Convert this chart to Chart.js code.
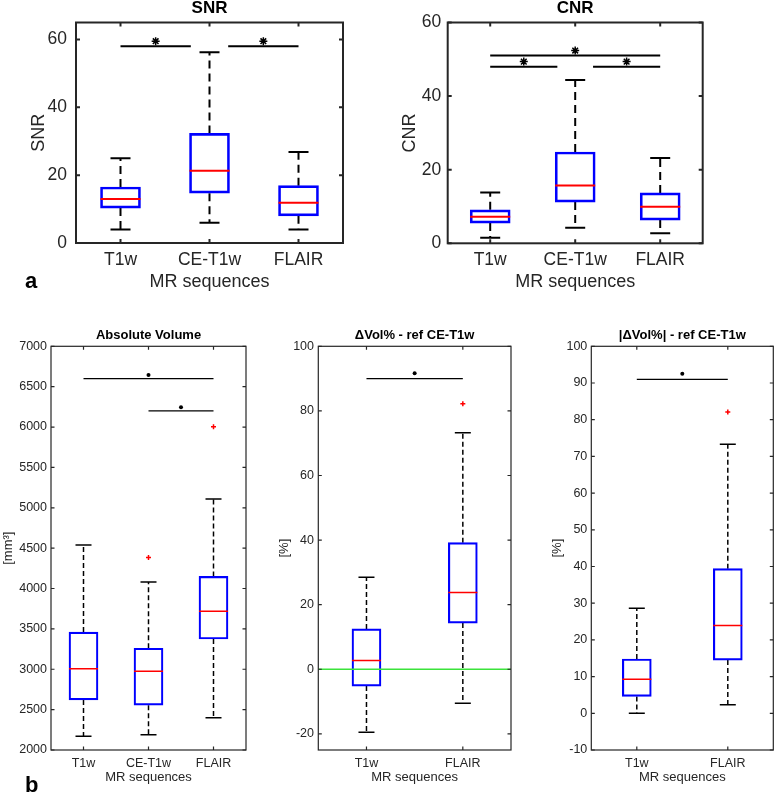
<!DOCTYPE html>
<html>
<head>
<meta charset="utf-8">
<script src="https://cdn.jsdelivr.net/npm/chart.js@4.4.1/dist/chart.umd.min.js"></script>
<style>
html,body{margin:0;padding:0;background:#fff;}
#fig{position:relative;width:778px;height:795px;overflow:hidden;font-family:"Liberation Sans",Arial,Helvetica,sans-serif;}
#fig canvas{position:absolute;}
.plabel{position:absolute;font-weight:bold;font-size:22px;line-height:1;color:#000;}
</style>
</head>
<body>
<div id="fig">
  <canvas id="c1"></canvas>
  <canvas id="c2"></canvas>
  <canvas id="c3"></canvas>
  <canvas id="c4"></canvas>
  <canvas id="c5"></canvas>
  <div class="plabel" style="left:25px;top:270px">a</div>
  <div class="plabel" style="left:25px;top:774px">b</div>
</div>
<script>
// ---------------- DATA ----------------
const topCategories = ['T1w', 'CE-T1w', 'FLAIR'];
const diffCategories = ['T1w', 'FLAIR'];

// SNR
const snrMin = [4, 6, 4];
const snrQ1 = [10.3, 14.7, 8.0];
const snrMedian = [13.0, 21.3, 11.9];
const snrQ3 = [16.5, 32.3, 16.9];
const snrMax = [25, 56.2, 26.8];
const snrOutliers = [[], [], []];
const snrSigPairs = [[0, 1], [1, 2]];
const snrSigLevel = [58, 58];
const snrTicks = [0, 20, 40, 60];

// CNR
const cnrMin = [1.5, 4.2, 2.7];
const cnrQ1 = [5.5, 11.2, 6.3];
const cnrMedian = [7.2, 15.7, 9.9];
const cnrQ3 = [9.1, 24.8, 13.7];
const cnrMax = [13.8, 44.4, 23.2];
const cnrOutliers = [[], [], []];
const cnrSigPairs = [[0, 2], [0, 1], [1, 2]];
const cnrSigLevel = [51, 48, 48];
const cnrTicks = [0, 20, 40, 60];

// Absolute Volume [mm3]
const volMin = [2170, 2190, 2400];
const volQ1 = [2620, 2555, 3375];
const volMedian = [3005, 2975, 3720];
const volQ3 = [3460, 3260, 4150];
const volMax = [4540, 4080, 5110];
const volOutliers = [[], [4385], [6005]];
const volSigPairs = [[0, 2], [1, 2]];
const volSigLevel = [6600, 6200];
const volTicks = [2000, 2500, 3000, 3500, 4000, 4500, 5000, 5500, 6000, 6500, 7000];

// dVol% ref CE-T1w
const dvolMin = [-19.5, -10.5];
const dvolQ1 = [-5.2, 14.3];
const dvolMedian = [2.7, 23.8];
const dvolQ3 = [12.5, 39.2];
const dvolMax = [28.5, 73.2];
const dvolOutliers = [[], [82.2]];
const dvolSigPairs = [[0, 1]];
const dvolSigLevel = [90];
const dvolRefLevel = [0];
const dvolTicks = [-20, 0, 20, 40, 60, 80, 100];

// |dVol%| ref CE-T1w
const advolMin = [0, 2.3];
const advolQ1 = [4.6, 14.5];
const advolMedian = [9.3, 23.9];
const advolQ3 = [14.8, 39.4];
const advolMax = [28.6, 73.3];
const advolOutliers = [[], [82.1]];
const advolSigPairs = [[0, 1]];
const advolSigLevel = [91];
const advolTicks = [-10, 0, 10, 20, 30, 40, 50, 60, 70, 80, 90, 100];

// ---------------- STYLE ----------------
const FONT = '"Liberation Sans", Arial, Helvetica, sans-serif';
const AX = '#262626';
const BLUE = '#0000ff';
const RED = '#ff0000';
const GREEN = '#3be33b';

const topStyle = {tickFont: 17.5, labelFont: 18, titleFont: 17, titleTop: 0, box: 40, cap: 10, lw: 2, dash: [8, 5],
  frameLw: 2, tickLen: 4, star: 'star', starR: 4, starBw: 1.5, outR: 3, xTickPad: 6.5, xTitlePad: 6.7, sigLw: 2};
const botStyle = {tickFont: 12.5, labelFont: 13, titleFont: 13, titleTop: 28.5, box: 29, cap: 8, lw: 1.5, dash: [5, 3],
  frameLw: 1.2, tickLen: 3.5, star: 'circle', starR: 2, starBw: 0, outR: 2.5, xTickPad: 6.5, xTitlePad: 9.4, sigLw: 1.3};

const matlabFrame = {
  id: 'matlabFrame',
  afterDatasetsDraw(chart, args, opts) {
    const {ctx, chartArea: a, scales: {x, y}} = chart;
    ctx.save();
    ctx.strokeStyle = opts.color;
    ctx.lineWidth = opts.lw;
    ctx.beginPath();
    const L = opts.len;
    y.ticks.forEach(t => {
      const p = y.getPixelForValue(t.value);
      ctx.moveTo(a.left, p); ctx.lineTo(a.left + L, p);
      ctx.moveTo(a.right, p); ctx.lineTo(a.right - L, p);
    });
    x.ticks.forEach(t => {
      const p = x.getPixelForValue(t.value);
      ctx.moveTo(p, a.bottom); ctx.lineTo(p, a.bottom - L);
      ctx.moveTo(p, a.top); ctx.lineTo(p, a.top + L);
    });
    ctx.stroke();
    ctx.strokeRect(a.left, a.top, a.right - a.left, a.bottom - a.top);
    ctx.restore();
  }
};

function makePanel(cfg) {
  const {id, pos, area, cats, mins, q1, med, q3, maxs, outs, sigPairs, sigLevel, ticks,
    yMin, yMax, title, yTitle, st, refLine, yTickPad, yTitlePad, starFrac} = cfg;
  const cv = document.getElementById(id);
  cv.width = pos.w; cv.height = pos.h;
  cv.style.left = pos.x + 'px'; cv.style.top = pos.y + 'px';
  cv.style.width = pos.w + 'px'; cv.style.height = pos.h + 'px';

  const ds = [];
  const n = cats.length;
  (refLine || []).forEach(v => ds.push({type: 'line', data: [{x: 0.5, y: v}, {x: n + 0.5, y: v}],
    borderColor: GREEN, borderWidth: st.lw, pointRadius: 0, fill: false}));
  // medians
  ds.push({type: 'scatter', data: med.map((v, i) => ({x: i + 1, y: v})), pointStyle: 'line',
    pointRadius: st.box / 2, pointHoverRadius: st.box / 2, borderColor: RED, borderWidth: st.lw});
  // outliers
  const outPts = [];
  outs.forEach((arr, i) => arr.forEach(v => outPts.push({x: i + 1, y: v})));
  ds.push({type: 'scatter', data: outPts, pointStyle: 'cross', pointRadius: st.outR, borderColor: RED, borderWidth: 1.5});
  // significance bars + markers
  const starPts = [];
  const range = yMax - yMin;
  sigPairs.forEach((pr, k) => {
    let a = pr[0] + 1, b = pr[1] + 1;
    sigPairs.forEach((o, j) => {
      if (j === k || sigLevel[j] !== sigLevel[k]) return;
      if (o[1] === pr[0]) a += 0.21;
      if (o[0] === pr[1]) b -= 0.21;
    });
    ds.push({type: 'line', data: [{x: a, y: sigLevel[k]}, {x: b, y: sigLevel[k]}],
      borderColor: '#000', borderWidth: st.sigLw, pointRadius: 0, fill: false});
    starPts.push({x: (a + b) / 2, y: sigLevel[k] + starFrac * range});
  });
  ds.push({type: 'scatter', data: starPts, pointStyle: st.star, pointRadius: st.starR,
    borderColor: '#000', backgroundColor: '#000', borderWidth: st.starBw});
  // boxes
  ds.push({type: 'bar', data: q1.map((v, i) => ({x: i + 1, y: [v, q3[i]]})),
    backgroundColor: 'rgba(0,0,0,0)', borderColor: BLUE, borderWidth: st.lw,
    borderSkipped: false, barThickness: st.box});
  // caps
  const capPts = [];
  mins.forEach((v, i) => { capPts.push({x: i + 1, y: v}); capPts.push({x: i + 1, y: maxs[i]}); });
  ds.push({type: 'scatter', data: capPts, pointStyle: 'line', pointRadius: st.cap, borderColor: '#000', borderWidth: st.lw});
  // whiskers
  cats.forEach((c, i) => {
    ds.push({type: 'line', data: [{x: i + 1, y: q3[i]}, {x: i + 1, y: maxs[i]}], borderColor: '#000',
      borderWidth: st.lw, borderDash: st.dash, pointRadius: 0, fill: false});
    ds.push({type: 'line', data: [{x: i + 1, y: q1[i]}, {x: i + 1, y: mins[i]}], borderColor: '#000',
      borderWidth: st.lw, borderDash: st.dash, pointRadius: 0, fill: false});
  });

  return new Chart(cv, {
    type: 'bar',
    data: {datasets: ds},
    options: {
      responsive: false, animation: false, events: [],
      layout: {autoPadding: false, padding: {left: 0, top: 0, right: pos.w - area.r, bottom: 0}},
      plugins: {
        legend: {display: false}, tooltip: {enabled: false},
        title: {display: true, text: title, fullSize: false, color: '#000',
          font: {family: FONT, size: st.titleFont, weight: 'bold', lineHeight: 1},
          padding: {top: st.titleTop, bottom: area.t - st.titleTop - st.titleFont}},
        matlabFrame: {color: AX, lw: st.frameLw, len: st.tickLen}
      },
      scales: {
        x: {type: 'linear', offset: false, min: 0.5, max: n + 0.5,
          grid: {display: false, drawTicks: false}, border: {display: false},
          afterBuildTicks: s => { s.ticks = cats.map((c, i) => ({value: i + 1})); },
          afterFit: s => { s.height = pos.h - area.b; s.paddingLeft = 0; s.paddingRight = 0; s.paddingTop = 0; s.paddingBottom = 0; },
          ticks: {autoSkip: false, maxRotation: 0, minRotation: 0, padding: st.xTickPad, color: AX,
            font: {family: FONT, size: st.tickFont, lineHeight: 1.2},
            callback: v => cats[Math.round(v) - 1]},
          title: {display: true, text: 'MR sequences', color: AX,
            font: {family: FONT, size: st.labelFont, lineHeight: 1.2},
            padding: {top: 0, bottom: st.xTitlePad}}},
        y: {type: 'linear', min: yMin, max: yMax, beginAtZero: false,
          grid: {display: false, drawTicks: false}, border: {display: false},
          afterBuildTicks: s => { s.ticks = ticks.map(v => ({value: v})); },
          afterFit: s => { s.width = area.l; s.paddingLeft = 0; s.paddingRight = 0; s.paddingTop = 0; s.paddingBottom = 0; },
          ticks: {autoSkip: false, padding: yTickPad, color: AX,
            font: {family: FONT, size: st.tickFont, lineHeight: 1.2},
            callback: v => String(v)},
          title: {display: true, text: yTitle, color: AX,
            font: {family: FONT, size: st.labelFont, lineHeight: 1.2},
            padding: {top: yTitlePad, bottom: 0}}}
      }
    },
    plugins: [matlabFrame]
  });
}

makePanel({id: 'c1', pos: {x: 0, y: 0, w: 390, h: 300}, area: {l: 76, r: 343, t: 22.5, b: 243},
  cats: topCategories, mins: snrMin, q1: snrQ1, med: snrMedian, q3: snrQ3, maxs: snrMax, outs: snrOutliers,
  sigPairs: snrSigPairs, sigLevel: snrSigLevel, ticks: snrTicks, yMin: 0, yMax: 65,
  title: 'SNR', yTitle: 'SNR', st: topStyle, yTickPad: 9, yTitlePad: 28.2, starFrac: 0.023});

makePanel({id: 'c2', pos: {x: 390, y: 0, w: 388, h: 300}, area: {l: 57.7, r: 312.7, t: 22.5, b: 243.3},
  cats: topCategories, mins: cnrMin, q1: cnrQ1, med: cnrMedian, q3: cnrQ3, maxs: cnrMax, outs: cnrOutliers,
  sigPairs: cnrSigPairs, sigLevel: cnrSigLevel, ticks: cnrTicks, yMin: 0, yMax: 60,
  title: 'CNR', yTitle: 'CNR', st: topStyle, yTickPad: 6.5, yTitlePad: 9.5, starFrac: 0.023});

makePanel({id: 'c3', pos: {x: 0, y: 300, w: 258, h: 495}, area: {l: 51, r: 246, t: 46.3, b: 450},
  cats: topCategories, mins: volMin, q1: volQ1, med: volMedian, q3: volQ3, maxs: volMax, outs: volOutliers,
  sigPairs: volSigPairs, sigLevel: volSigLevel, ticks: volTicks, yMin: 2000, yMax: 7000,
  title: 'Absolute Volume', yTitle: '[mm³]', st: botStyle, yTickPad: 4, yTitlePad: 0.9, starFrac: 0.009});

makePanel({id: 'c4', pos: {x: 258, y: 300, w: 258, h: 495}, area: {l: 60.3, r: 253, t: 46.3, b: 450},
  cats: diffCategories, mins: dvolMin, q1: dvolQ1, med: dvolMedian, q3: dvolQ3, maxs: dvolMax, outs: dvolOutliers,
  sigPairs: dvolSigPairs, sigLevel: dvolSigLevel, ticks: dvolTicks, yMin: -25, yMax: 100, refLine: dvolRefLevel,
  title: 'ΔVol% - ref CE-T1w', yTitle: '[%]', st: botStyle, yTickPad: 4.3, yTitlePad: 18.2, starFrac: 0.013});

makePanel({id: 'c5', pos: {x: 518, y: 300, w: 260, h: 495}, area: {l: 73.3, r: 255.3, t: 46.3, b: 450},
  cats: diffCategories, mins: advolMin, q1: advolQ1, med: advolMedian, q3: advolQ3, maxs: advolMax, outs: advolOutliers,
  sigPairs: advolSigPairs, sigLevel: advolSigLevel, ticks: advolTicks, yMin: -10, yMax: 100,
  title: '|ΔVol%| - ref CE-T1w', yTitle: '[%]', st: botStyle, yTickPad: 4, yTitlePad: 31.9, starFrac: 0.014});
</script>
</body>
</html>
